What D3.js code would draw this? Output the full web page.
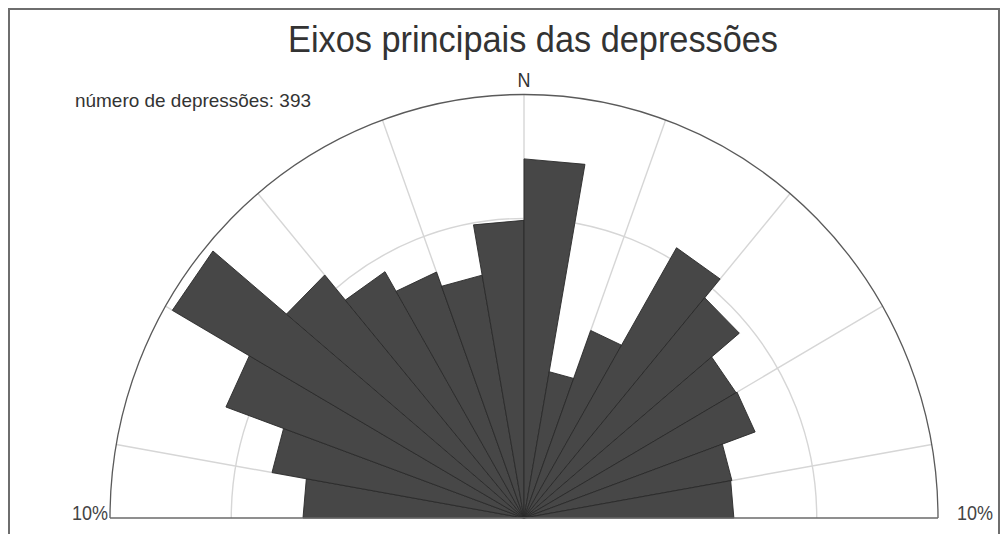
<!DOCTYPE html>
<html>
<head>
<meta charset="utf-8">
<script src="https://cdn.jsdelivr.net/npm/d3@7"></script>
<style>
  html, body { margin: 0; padding: 0; background: #fff; }
  svg { display: block; font-family: "Liberation Sans", Arial, sans-serif; }
</style>
</head>
<body>
<svg id="chart" width="1008" height="534"></svg>
<script>
// Direction bins (azimuth of bin start, degrees clockwise from N), 10° each, W -> N -> E
const binStart = [270, 280, 290, 300, 310, 320, 330, 340, 350, 0, 10, 20, 30, 40, 50, 60, 70, 80];
// Percentage of depressions whose main axis falls in each bin
const percent = [2.85, 3.82, 5.87, 9.62, 5.61, 4.51, 3.82, 3.39, 4.94, 7.19, 1.23, 2.22, 5.43, 4.61, 3.50, 3.53, 2.60, 2.57];
// Reference rings (percent) and radial grid azimuths
const ringValues = [5];
const maxPercent = 10;
const gridAzimuths = [280, 300, 320, 340, 0, 20, 40, 60, 80];
const edgeLabel = "10%";
const titleText = "Eixos principais das depressões";
const countText = "número de depressões: 393";

const svg = d3.select("#chart");
const cx = 524, cy = 518, R = 414, sy = 1.023;

// frame
svg.append("rect")
  .attr("x", 9).attr("y", 9).attr("width", 990).attr("height", 540)
  .attr("fill", "none").attr("stroke", "#6e6e6e").attr("stroke-width", 2);

// equal-area radius scale
const r = d3.scaleSqrt().domain([0, maxPercent]).range([0, R]);
const rad = az => az * Math.PI / 180;
const px = (az, v) => Math.sin(rad(az)) * r(v);
const py = (az, v) => -Math.cos(rad(az)) * r(v);

const g = svg.append("g").attr("transform", `translate(${cx},${cy}) scale(1,${sy})`);

// half-circle arc helper from W through N to E
const halfArc = v => {
  const p = d3.path();
  p.arc(0, 0, r(v), Math.PI, 2 * Math.PI);
  return p.toString();
};

// inner rings
g.selectAll(".ring").data(ringValues).join("path")
  .attr("class", "ring")
  .attr("d", halfArc)
  .attr("fill", "none").attr("stroke", "#d6d6d6").attr("stroke-width", 1.4);

// radial grid
g.selectAll(".spoke").data(gridAzimuths).join("line")
  .attr("class", "spoke")
  .attr("x1", 0).attr("y1", 0)
  .attr("x2", d => px(d, maxPercent)).attr("y2", d => py(d, maxPercent))
  .attr("stroke", "#d6d6d6").attr("stroke-width", 1.4);

// petals: wedge with straight outer edge
const bins = binStart.map((s, i) => ({ a0: s, a1: s + 10, v: percent[i] }));
g.selectAll(".petal").data(bins).join("path")
  .attr("class", "petal")
  .attr("d", d => `M0,0L${px(d.a0, d.v)},${py(d.a0, d.v)}L${px(d.a1, d.v)},${py(d.a1, d.v)}Z`)
  .attr("fill", "#474747")
  .attr("stroke", "#2b2b2b").attr("stroke-width", 0.9).attr("stroke-linejoin", "miter");

// outer circle
g.append("path").attr("d", halfArc(maxPercent))
  .attr("fill", "none").attr("stroke", "#5a5a5a").attr("stroke-width", 1.3);

// base line
svg.append("line")
  .attr("x1", cx - r(maxPercent)).attr("x2", cx + r(maxPercent))
  .attr("y1", cy).attr("y2", cy)
  .attr("stroke", "#6a6a6a").attr("stroke-width", 1.6);

// texts (slightly condensed face)
svg.append("text").attr("x", 533).attr("y", 52).attr("text-anchor", "middle")
  .attr("font-size", 36).attr("textLength", 490).attr("lengthAdjust", "spacingAndGlyphs")
  .attr("fill", "#333").text(titleText);
svg.append("text").attr("x", cx).attr("y", 87).attr("text-anchor", "middle")
  .attr("font-size", 21).attr("textLength", 13).attr("lengthAdjust", "spacingAndGlyphs")
  .attr("fill", "#333").text("N");
svg.append("text").attr("x", 75).attr("y", 107)
  .attr("font-size", 19).attr("textLength", 236).attr("lengthAdjust", "spacingAndGlyphs")
  .attr("fill", "#333").text(countText);
svg.append("text").attr("x", 72).attr("y", 520)
  .attr("font-size", 20).attr("textLength", 36).attr("lengthAdjust", "spacingAndGlyphs")
  .attr("fill", "#444").text(edgeLabel);
svg.append("text").attr("x", 957).attr("y", 520)
  .attr("font-size", 20).attr("textLength", 36).attr("lengthAdjust", "spacingAndGlyphs")
  .attr("fill", "#444").text(edgeLabel);
</script>
</body>
</html>
